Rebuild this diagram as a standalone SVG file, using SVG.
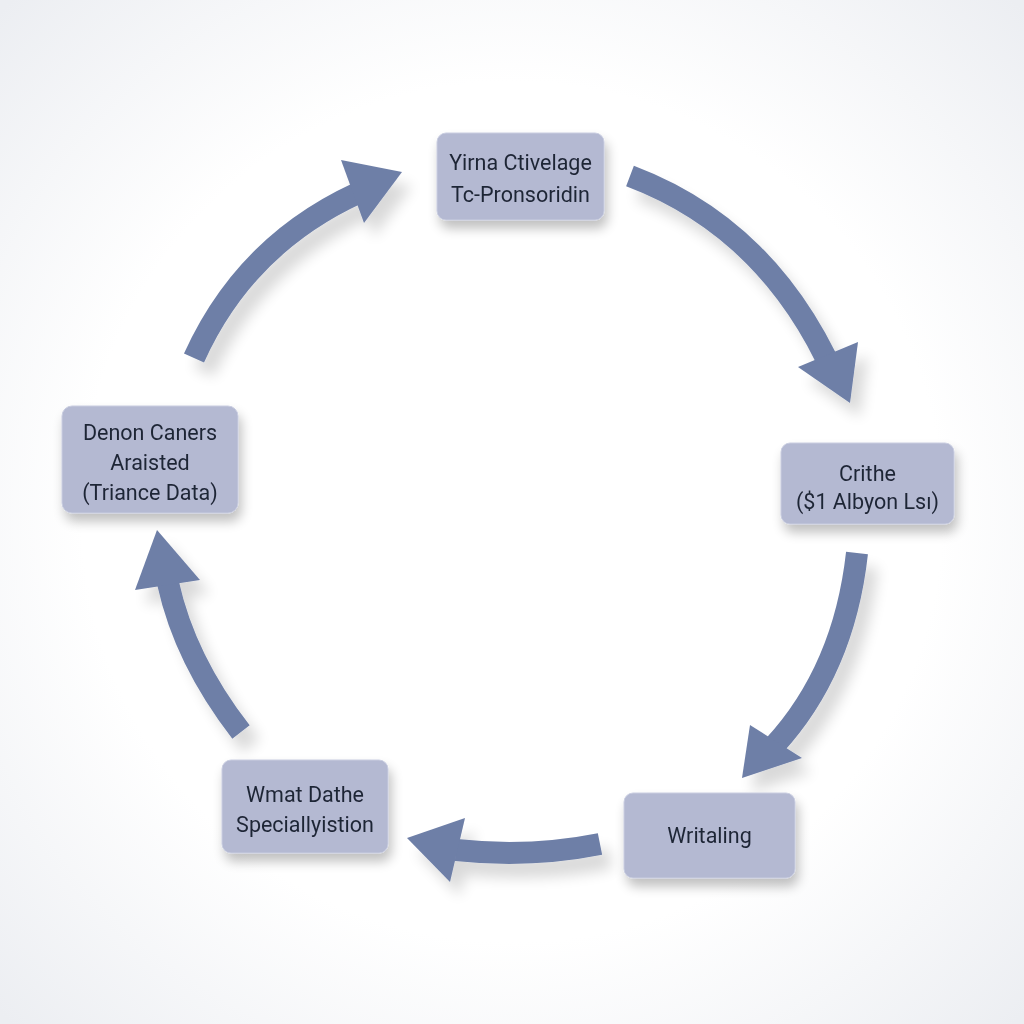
<svg xmlns="http://www.w3.org/2000/svg" width="1024" height="1024" viewBox="0 0 1024 1024">
<defs>
<radialGradient id="bg" cx="50%" cy="50%" r="70%">
<stop offset="0.6" stop-color="#ffffff"/>
<stop offset="1" stop-color="#eceef2"/>
</radialGradient>
<filter id="sh" x="-30%" y="-30%" width="160%" height="170%">
<feGaussianBlur in="SourceAlpha" stdDeviation="6"/>
<feOffset dx="3" dy="8" result="b"/>
<feComponentTransfer><feFuncA type="linear" slope="0.25"/></feComponentTransfer>
<feMerge><feMergeNode/><feMergeNode in="SourceGraphic"/></feMerge>
</filter>
<filter id="ash" x="-30%" y="-30%" width="160%" height="160%">
<feGaussianBlur in="SourceAlpha" stdDeviation="7"/>
<feOffset dx="10" dy="14" result="b"/>
<feComponentTransfer><feFuncA type="linear" slope="0.15"/></feComponentTransfer>
<feMerge><feMergeNode/><feMergeNode in="SourceGraphic"/></feMerge>
</filter>
</defs>
<style>
.box{fill:#b4b9d2;stroke:#c9cde0;stroke-width:1}
.t{font-family:Roboto,"Liberation Sans",sans-serif;font-size:21.5px;fill:#1f2536;text-anchor:middle}
.shaft{fill:none;stroke:#6e7fa7;stroke-width:22}
.head{fill:#6e7fa7}
</style>
<rect width="1024" height="1024" fill="url(#bg)"/>
<g id="connectors" filter="url(#ash)">
<g id="a1"><path class="shaft" d="M194,358 Q245,245 358,193"/><polygon class="head" points="402,172 341,160 364,223"/></g>
<g id="a2"><path class="shaft" d="M630,176 Q760,225 826,358"/><polygon class="head" points="850,403 798,367 858,342"/></g>
<g id="a3"><path class="shaft" d="M857,553 Q844,670 774,746"/><polygon class="head" points="742,778 750,725 802,758"/></g>
<g id="a4"><path class="shaft" d="M600,844 Q530,858 456,850"/><polygon class="head" points="407,838 465,818 450,882"/></g>
<g id="a5"><path class="shaft" d="M241,732 Q185,660 168,583"/><polygon class="head" points="157,530 135,590 200,580"/></g>
</g>
<g id="n1" filter="url(#sh)"><rect class="box" x="437" y="133" width="167" height="87" rx="9"/>
<text class="t" x="520.5" y="170">Yirna Ctivelage</text><text class="t" x="520.5" y="202">Tc-Pronsoridin</text></g>
<g id="n2" filter="url(#sh)"><rect class="box" x="62" y="406" width="176" height="107" rx="10"/>
<text class="t" x="150" y="440">Denon Caners</text><text class="t" x="150" y="470">Araisted</text><text class="t" x="150" y="500">(Triance Data)</text></g>
<g id="n3" filter="url(#sh)"><rect class="box" x="781" y="443" width="173" height="81" rx="9"/>
<text class="t" x="867.5" y="481">Crithe</text><text class="t" x="867.5" y="509">($1 Albyon Lsı)</text></g>
<g id="n4" filter="url(#sh)"><rect class="box" x="222" y="760" width="166" height="93" rx="9"/>
<text class="t" x="305" y="802">Wmat Dathe</text><text class="t" x="305" y="832">Speciallyistion</text></g>
<g id="n5" filter="url(#sh)"><rect class="box" x="624" y="793" width="171" height="85" rx="9"/>
<text class="t" x="709.5" y="843">Writaling</text></g>
</svg>
